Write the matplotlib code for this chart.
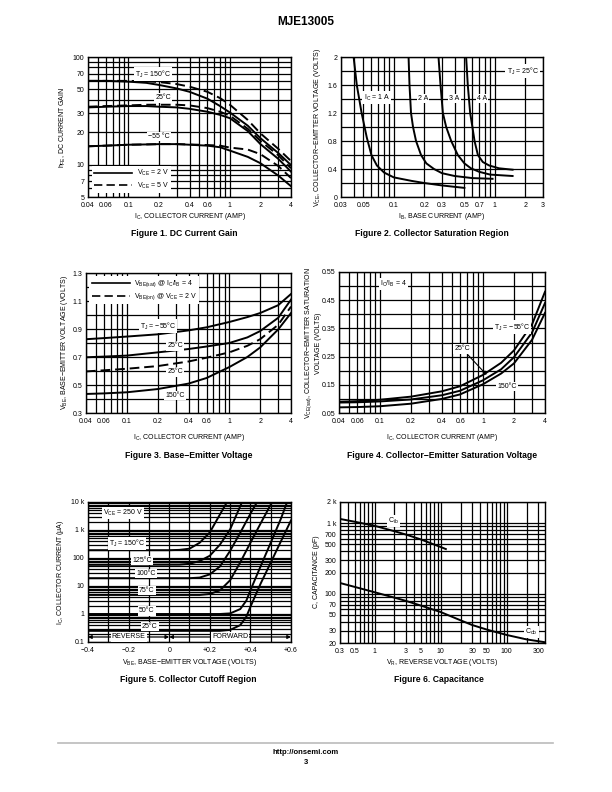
import numpy as np
import matplotlib
matplotlib.use("Agg")
import matplotlib.pyplot as plt
from matplotlib.lines import Line2D
from matplotlib.ticker import FixedLocator, FixedFormatter, NullFormatter

plt.rcParams["font.family"] = ["Liberation Sans", "DejaVu Sans"]
plt.rcParams["mathtext.default"] = "regular"

# --- Figure 1: DC current gain ---
ic1 = [0.04, 0.06, 0.1, 0.15, 0.2, 0.3, 0.4, 0.6, 0.8, 1, 1.5, 2, 3, 4]
hfe_150_2v = [60, 60, 59, 57.5, 55, 51, 47.5, 41, 35, 30.5, 23, 17.6, 12.8, 9.9]
hfe_150_5v = [60, 60, 60, 59.5, 58.5, 56, 53, 47.5, 41.5, 36, 26, 19.5, 14, 10.8]
hfe_25_2v = [34, 34.5, 35, 35, 34.5, 34, 33, 31, 29, 27, 20.5, 15.5, 11.3, 8.6]
hfe_25_5v = [34.5, 35, 35.5, 36, 36, 36, 35.5, 33.5, 31, 28.5, 21.5, 16.6, 12.2, 9.25]
hfe_m55_2v = [14.8, 15, 15.3, 15.4, 15.5, 15.5, 15.3, 15, 14.5, 13.5, 11.8, 10.3, 7.9, 6.3]
hfe_m55_5v = [14.8, 15, 15.3, 15.4, 15.5, 15.5, 15.4, 15.2, 15, 14.4, 13.8, 12.5, 9.7, 7.5]

# --- Figure 2: collector saturation region ---
ib_1a = [0.04, 0.043, 0.048, 0.054, 0.06, 0.068, 0.08, 0.1, 0.15, 0.2, 0.3, 0.5]
vce_1a = [2.0, 1.6, 1.2, 0.85, 0.6, 0.45, 0.35, 0.28, 0.23, 0.2, 0.165, 0.13]
ib_2a = [0.14, 0.143, 0.148, 0.155, 0.166, 0.186, 0.21, 0.25, 0.3, 0.4, 0.6, 0.95]
vce_2a = [2.0, 1.6, 1.2, 1.0, 0.8, 0.6, 0.48, 0.4, 0.34, 0.3, 0.27, 0.26]
ib_3a = [0.277, 0.29, 0.306, 0.33, 0.37, 0.43, 0.5, 0.58, 0.7, 0.9, 1.5]
vce_3a = [2.0, 1.6, 1.2, 1.0, 0.8, 0.6, 0.48, 0.41, 0.36, 0.32, 0.3]
ib_4a = [0.52, 0.54, 0.57, 0.6, 0.63, 0.68, 0.76, 0.88, 1.1, 1.5]
vce_4a = [2.0, 1.6, 1.2, 1.0, 0.8, 0.6, 0.5, 0.45, 0.41, 0.39]

# --- Figure 3: base-emitter voltage ---
ic3 = [0.04, 0.06, 0.1, 0.2, 0.4, 0.6, 1, 1.5, 2, 3, 4]
vbe_sat_m55 = [0.827, 0.835, 0.846, 0.862, 0.89, 0.912, 0.95, 0.985, 1.014, 1.07, 1.15]
vbe_sat_25 = [0.698, 0.703, 0.71, 0.733, 0.757, 0.775, 0.80, 0.84, 0.885, 0.98, 1.11]
vbe_on_25 = [0.597, 0.605, 0.616, 0.635, 0.668, 0.695, 0.733, 0.78, 0.827, 0.93, 1.06]
vbe_sat_150 = [0.436, 0.44, 0.448, 0.471, 0.51, 0.55, 0.628, 0.70, 0.768, 0.897, 1.014]

# --- Figure 4: collector-emitter saturation voltage ---
ic4 = [0.04, 0.06, 0.1, 0.2, 0.4, 0.6, 1, 1.5, 2, 3, 4]
vcesat_m55 = [0.090, 0.092, 0.097, 0.108, 0.127, 0.145, 0.185, 0.228, 0.272, 0.365, 0.48]
vcesat_25 = [0.087, 0.088, 0.091, 0.098, 0.113, 0.129, 0.166, 0.205, 0.248, 0.336, 0.44]
vcesat_150 = [0.070, 0.071, 0.074, 0.083, 0.100, 0.116, 0.152, 0.19, 0.226, 0.31, 0.405]

# --- Figure 5: collector cutoff region (uA) ---
vbe_150 = [-0.4, 0.0, 0.05, 0.1, 0.15, 0.2, 0.25, 0.285]
ic_150 = [190, 190, 195, 215, 350, 820, 3600, 10000]
vbe_125 = [-0.4, 0.05, 0.1, 0.15, 0.2, 0.25, 0.3, 0.359]
ic_125 = [57, 58, 62, 78, 120, 300, 1050, 10000]
vbe_100 = [-0.4, 0.1, 0.15, 0.2, 0.25, 0.3, 0.35, 0.4, 0.433]
ic_100 = [19, 19, 20, 26, 50, 180, 800, 3800, 10000]
vbe_75 = [-0.4, 0.15, 0.2, 0.25, 0.3, 0.35, 0.4, 0.45, 0.507]
ic_75 = [4.8, 4.8, 5.2, 7, 16, 70, 350, 1700, 10000]
vbe_50 = [-0.4, 0.25, 0.3, 0.35, 0.38, 0.4, 0.45, 0.5, 0.55, 0.581]
ic_50 = [1.0, 1.0, 1.05, 1.5, 3, 7, 50, 350, 2500, 10000]
vbe_25 = [-0.4, 0.25, 0.3, 0.35, 0.38, 0.4, 0.45, 0.5, 0.55, 0.6]
ic_25 = [0.25, 0.25, 0.27, 0.4, 0.8, 1.8, 12, 68, 390, 2200]

# --- Figure 6: capacitance ---
vr_ib = [0.3, 0.5, 1, 2, 3, 5, 10, 12]
c_ib = [1150, 1050, 920, 770, 690, 590, 460, 430]
vr_ob = [0.3, 0.5, 1, 2, 3, 5, 10, 20, 30, 50, 100, 200, 380]
c_ob = [142, 125, 105, 88, 79, 68, 55, 42, 36, 31, 26, 22.5, 20.5]

W, H = 612, 792
fig = plt.figure(figsize=(W / 100, H / 100), dpi=100, facecolor="white")
DASH = (0, (5, 2.5))
FS = 5


def px_axes(l, t, r, b):
    return fig.add_axes([l / W, 1 - b / H, (r - l) / W, (b - t) / H])


def ftext(x, y, s, **kw):
    fig.text(x / W, 1 - y / H, s, **kw)


def logpts(lo, hi):
    pts = [m * 10.0 ** e for e in range(-3, 5) for m in range(1, 10)]
    return [p for p in pts if lo * 0.999 <= p <= hi * 1.001]


def setup(ax, xlim, ylim, xgrid, ygrid, xt, xtl, yt, ytl, xlog=True, ylog=True):
    if xlog:
        ax.set_xscale("log")
    if ylog:
        ax.set_yscale("log")
    ax.set_xlim(*xlim)
    ax.set_ylim(*ylim)
    ax.xaxis.set_major_locator(FixedLocator(xt))
    ax.xaxis.set_major_formatter(FixedFormatter(xtl))
    ax.xaxis.set_minor_locator(FixedLocator(xgrid))
    ax.xaxis.set_minor_formatter(NullFormatter())
    ax.yaxis.set_major_locator(FixedLocator(yt))
    ax.yaxis.set_major_formatter(FixedFormatter(ytl))
    ax.yaxis.set_minor_locator(FixedLocator(ygrid))
    ax.yaxis.set_minor_formatter(NullFormatter())
    ax.grid(True, which="both", color="black", lw=0.9)
    ax.set_axisbelow(True)
    ax.tick_params(which="both", length=0, labelsize=FS)
    ax.tick_params(axis="x", pad=3.5)
    ax.tick_params(axis="y", pad=2.5)
    for s in ax.spines.values():
        s.set_linewidth(1.0)


def tag(ax, x, y, s, **kw):
    ax.text(x, y, s, fontsize=FS, ha="center", va="center", zorder=5,
            bbox=dict(fc="white", ec="none", pad=0.8), **kw)


def curve(ax, x, y, dashed=False):
    ax.plot(x, y, color="black", lw=1.4, ls=DASH if dashed else "-", zorder=3)


ic_ticks = [0.04, 0.06, 0.1, 0.2, 0.4, 0.6, 1, 2, 4]
ic_labels = ["0.04", "0.06", "0.1", "0.2", "0.4", "0.6", "1", "2", "4"]

# Figure 1
ax1 = px_axes(88, 57, 291, 197)
setup(ax1, (0.04, 4), (5, 100), logpts(0.04, 4), logpts(5, 100),
      ic_ticks, ic_labels, [5, 7, 10, 20, 30, 50, 70, 100],
      ["5", "7", "10", "20", "30", "50", "70", "100"])
curve(ax1, ic1, hfe_150_2v)
curve(ax1, ic1, hfe_150_5v, True)
curve(ax1, ic1, hfe_25_2v)
curve(ax1, ic1, hfe_25_5v, True)
curve(ax1, ic1, hfe_m55_2v)
curve(ax1, ic1, hfe_m55_5v, True)
tag(ax1, 0.175, 69.5, "T$_J$ = 150°C")
tag(ax1, 0.22, 41.6, "25°C")
tag(ax1, 0.2, 18.1, "−55 °C")
hd = [Line2D([], [], color="black", lw=1.2), Line2D([], [], color="black", lw=1.2, ls=DASH)]
ax1.legend(hd, ["V$_{CE}$ = 2 V", "V$_{CE}$ = 5 V"], loc="lower left", fontsize=FS,
           frameon=True, fancybox=False, edgecolor="none", framealpha=1,
           handlelength=5.5, borderpad=0.3, labelspacing=0.3, borderaxespad=0.6,
           handletextpad=0.6)

# Figure 2
ax2 = px_axes(341, 57, 543, 197)
setup(ax2, (0.03, 3), (0, 2), logpts(0.03, 3), list(np.arange(0, 2.01, 0.2)),
      [0.03, 0.05, 0.1, 0.2, 0.3, 0.5, 0.7, 1, 2, 3],
      ["0.03", "0.05", "0.1", "0.2", "0.3", "0.5", "0.7", "1", "2", "3"],
      [0, 0.4, 0.8, 1.2, 1.6, 2], ["0", "0.4", "0.8", "1.2", "1.6", "2"], ylog=False)
curve(ax2, ib_1a, vce_1a)
curve(ax2, ib_2a, vce_2a)
curve(ax2, ib_3a, vce_3a)
curve(ax2, ib_4a, vce_4a)
tag(ax2, 0.0676, 1.42, "I$_C$ = 1 A")
tag(ax2, 0.194, 1.41, "2 A")
tag(ax2, 0.40, 1.41, "3 A")
tag(ax2, 0.75, 1.41, "4 A")
tag(ax2, 1.89, 1.80, "T$_J$ = 25°C")

# Figure 3
ax3 = px_axes(86, 273, 291, 413)
setup(ax3, (0.04, 4), (0.3, 1.3), logpts(0.04, 4), list(np.arange(0.3, 1.31, 0.1)),
      ic_ticks, ic_labels, [0.3, 0.5, 0.7, 0.9, 1.1, 1.3],
      ["0.3", "0.5", "0.7", "0.9", "1.1", "1.3"], ylog=False)
curve(ax3, ic3, vbe_sat_m55)
curve(ax3, ic3, vbe_sat_25)
curve(ax3, ic3, vbe_on_25, True)
curve(ax3, ic3, vbe_sat_150)
tag(ax3, 0.201, 0.921, "T$_J$ = −55°C")
tag(ax3, 0.295, 0.779, "25°C")
tag(ax3, 0.295, 0.593, "25°C")
tag(ax3, 0.295, 0.424, "150°C")
ax3.legend(hd, ["V$_{BE(sat)}$ @ I$_C$/I$_B$ = 4", "V$_{BE(on)}$ @ V$_{CE}$ = 2 V"],
           loc="upper left", fontsize=FS, frameon=True, fancybox=False,
           edgecolor="none", framealpha=1, handlelength=5.5, borderpad=0.3,
           labelspacing=0.3, borderaxespad=0.5, handletextpad=0.6)

# Figure 4
ax4 = px_axes(339, 272, 545, 413)
setup(ax4, (0.04, 4), (0.05, 0.55), logpts(0.04, 4), list(np.arange(0.05, 0.551, 0.05)),
      ic_ticks, ic_labels, [0.05, 0.15, 0.25, 0.35, 0.45, 0.55],
      ["0.05", "0.15", "0.25", "0.35", "0.45", "0.55"], ylog=False)
curve(ax4, ic4, vcesat_m55)
curve(ax4, ic4, vcesat_25)
curve(ax4, ic4, vcesat_150)
tag(ax4, 0.134, 0.507, "I$_C$/I$_B$ = 4")
tag(ax4, 1.91, 0.355, "T$_J$ = −55°C")
tag(ax4, 0.625, 0.277, "25°C")
tag(ax4, 1.71, 0.143, "150°C")
ax4.annotate("", xy=(1.087, 0.185), xytext=(0.715, 0.256), zorder=6,
             arrowprops=dict(arrowstyle="-|>", color="black", lw=0.8,
                             mutation_scale=5, shrinkA=0, shrinkB=0))

# Figure 5
ax5 = px_axes(88, 502, 291, 642)
setup(ax5, (-0.4, 0.6), (0.1, 10000), list(np.arange(-0.4, 0.61, 0.1)), logpts(0.1, 10000),
      [-0.4, -0.2, 0, 0.2, 0.4, 0.6], ["−0.4", "−0.2", "0", "+0.2", "+0.4", "+0.6"],
      [0.1, 1, 10, 100, 1000, 10000], ["0.1", "1", "10", "100", "1 k", "10 k"], xlog=False)
curve(ax5, vbe_150, ic_150)
curve(ax5, vbe_125, ic_125)
curve(ax5, vbe_100, ic_100)
curve(ax5, vbe_75, ic_75)
curve(ax5, vbe_50, ic_50)
curve(ax5, vbe_25, ic_25)
tag(ax5, -0.228, 4040, "V$_{CE}$ = 250 V")
tag(ax5, -0.209, 327, "T$_J$ = 150°C")
tag(ax5, -0.135, 83, "125°C")
tag(ax5, -0.114, 27.7, "100°C")
tag(ax5, -0.111, 7.0, "75°C")
tag(ax5, -0.111, 1.28, "50°C")
tag(ax5, -0.095, 0.36, "25°C")
for a, b in [(-0.4, 0.0), (0.0, 0.6)]:
    ax5.annotate("", xy=(a, 0.151), xytext=(b, 0.151), zorder=4,
                 arrowprops=dict(arrowstyle="<|-|>", color="black", lw=0.9,
                                 mutation_scale=5, shrinkA=0, shrinkB=0))
tag(ax5, -0.2, 0.151, "REVERSE")
tag(ax5, 0.3, 0.151, "FORWARD")

# Figure 6
ax6 = px_axes(340, 502, 545, 643)
setup(ax6, (0.3, 380), (20, 2000), logpts(0.3, 380), logpts(20, 2000),
      [0.3, 0.5, 1, 3, 5, 10, 30, 50, 100, 300],
      ["0.3", "0.5", "1", "3", "5", "10", "30", "50", "100", "300"],
      [20, 30, 50, 70, 100, 200, 300, 500, 700, 1000, 2000],
      ["20", "30", "50", "70", "100", "200", "300", "500", "700", "1 k", "2 k"])
curve(ax6, vr_ib, c_ib)
curve(ax6, vr_ob, c_ob)
tag(ax6, 1.91, 1075, "C$_{ib}$")
tag(ax6, 238, 28.7, "C$_{ob}$")

# axis labels and captions
lab = dict(fontsize=FS, ha="center", va="center")
ftext(190, 216, "I$_C$, COLLECTOR CURRENT (AMP)", **lab)
ftext(442, 217, "I$_B$, BASE CURRENT (AMP)", **lab)
ftext(189, 438, "I$_C$, COLLECTOR CURRENT (AMP)", **lab)
ftext(442, 438, "I$_C$, COLLECTOR CURRENT (AMP)", **lab)
ftext(189, 663, "V$_{BE}$, BASE−EMITTER VOLTAGE (VOLTS)", **lab)
ftext(442, 663, "V$_R$, REVERSE VOLTAGE (VOLTS)", **lab)
ftext(63, 127, "h$_{FE}$, DC CURRENT GAIN", rotation=90, **lab)
ftext(317, 127, "V$_{CE}$, COLLECTOR−EMITTER VOLTAGE (VOLTS)", rotation=90, **lab)
ftext(64, 343, "V$_{BE}$, BASE−EMITTER VOLTAGE (VOLTS)", rotation=90, **lab)
ftext(309, 343, "V$_{CE(sat)}$, COLLECTOR−EMITTER SATURATION", rotation=90, **lab)
ftext(319, 343, "VOLTAGE (VOLTS)", rotation=90, **lab)
ftext(61, 572, "I$_C$, COLLECTOR CURRENT (μA)", rotation=90, **lab)
ftext(316, 572, "C, CAPACITANCE (pF)", rotation=90, **lab)

cap = dict(fontsize=6.2, fontweight="bold", ha="center", va="center")
ftext(184, 234, "Figure 1. DC Current Gain", **cap)
ftext(432, 234, "Figure 2. Collector Saturation Region", **cap)
ftext(189, 455, "Figure 3. Base−Emitter Voltage", **cap)
ftext(442, 455, "Figure 4. Collector−Emitter Saturation Voltage", **cap)
ftext(188, 679, "Figure 5. Collector Cutoff Region", **cap)
ftext(439, 679, "Figure 6. Capacitance", **cap)

ftext(306, 22, "MJE13005", fontsize=8.5, fontweight="bold", ha="center", va="center")
fig.add_artist(Line2D([58 / W, 553 / W], [1 - 743 / H, 1 - 743 / H], color="#bbbbbb", lw=1.2))
ftext(306, 752, "http://onsemi.com", fontsize=5.5, fontweight="bold", ha="center", va="center")
ftext(306, 763, "3", fontsize=5.5, fontweight="bold", ha="center", va="center")

fig.savefig("out.png", dpi=100, facecolor="white")
